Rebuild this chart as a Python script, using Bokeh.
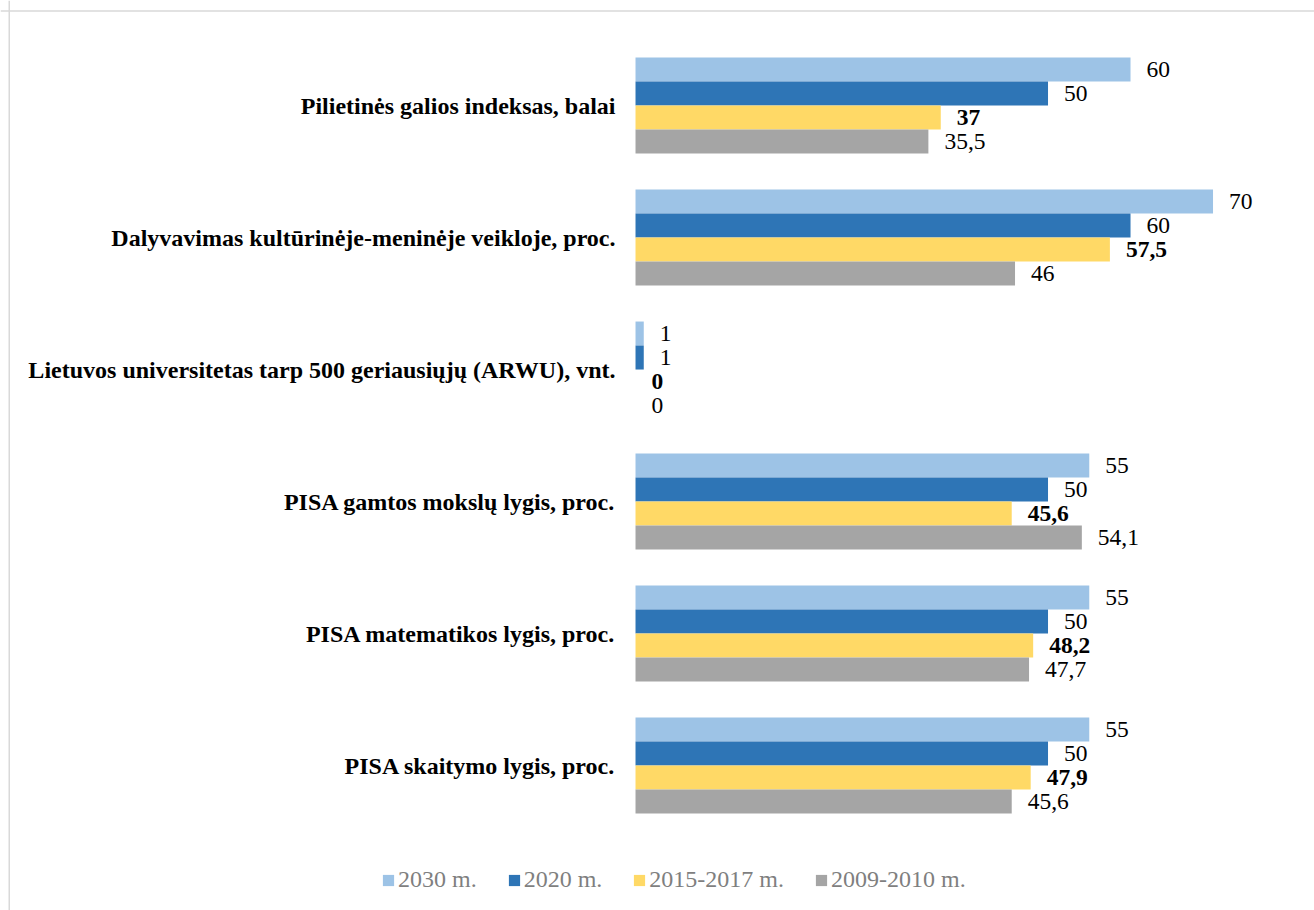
from bokeh.plotting import figure
from bokeh.models import ColumnDataSource, Range1d, Legend, LegendItem, Span
from bokeh.transform import dodge
from bokeh.core.properties import value
from bokeh.embed import file_html
from bokeh.resources import INLINE

categories = [
    "Pilietinės galios indeksas, balai",
    "Dalyvavimas kultūrinėje-meninėje veikloje, proc.",
    "Lietuvos universitetas tarp 500 geriausiųjų (ARWU), vnt.",
    "PISA gamtos mokslų lygis, proc.",
    "PISA matematikos lygis, proc.",
    "PISA skaitymo lygis, proc.",
]
series_names = ["2030 m.", "2020 m.", "2015-2017 m.", "2009-2010 m."]
v2030 = [60, 70, 1, 55, 55, 55]
v2020 = [50, 60, 1, 50, 50, 50]
v2015 = [37, 57.5, 0, 45.6, 48.2, 47.9]
v2009 = [35.5, 46, 0, 54.1, 47.7, 45.6]
series_values = [v2030, v2020, v2015, v2009]
colors = ["#9dc3e6", "#2e75b6", "#ffd966", "#a5a5a5"]
bold_series = [False, False, True, False]

FONT = "Liberation Serif"

W, H = 1314, 910
x0, x1 = -76.97, 82.30
y_bottom, y_top = 6.098, -0.7955
p = figure(width=W, height=H, x_range=Range1d(x0, x1), y_range=Range1d(y_bottom, y_top),
           output_backend="svg", toolbar_location=None, min_border=0,
           x_axis_location=None, y_axis_location=None)
p.grid.visible = False
p.outline_line_color = None
p.background_fill_color = "white"
p.border_fill_color = "white"

# chart border (left and top)
px_per_x = W / (x1 - x0)
px_per_y = H / (y_bottom - y_top)
p.add_layout(Span(location=x0 + 8.75 / px_per_x, dimension="height", line_color="#d9d9d9", line_width=1.5))
p.add_layout(Span(location=y_top + 10.5 / px_per_y, dimension="width", line_color="#d9d9d9", line_width=1.5))

pos = list(range(len(categories)))
bar_h = 24 / 132
offsets = [-1.5 * bar_h, -0.5 * bar_h, 0.5 * bar_h, 1.5 * bar_h]

def fmt(v):
    s = ("%g" % v)
    return s.replace(".", ",")

items = []
for name, vals, col, off, bold in zip(series_names, series_values, colors, offsets, bold_series):
    src = ColumnDataSource(dict(pos=pos, val=vals, lab=[fmt(v) for v in vals]))
    r = p.hbar(y=dodge("pos", off, range=p.y_range), left=0, right="val", height=bar_h,
               source=src, fill_color=col, line_color=None)
    items.append(LegendItem(label=name, renderers=[r]))
    p.text(x="val", y=dodge("pos", off, range=p.y_range), text="lab", source=src,
           x_offset=16, text_align="left", text_baseline="middle",
           text_font=value(FONT), text_font_size="23.5px", text_color="#000000",
           text_font_style="bold" if bold else "normal")

cat_src = ColumnDataSource(dict(pos=pos, cat=categories, zero=[0] * len(categories)))
p.text(x="zero", y="pos", text="cat", source=cat_src, x_offset=-20,
       text_align="right", text_baseline="middle", text_font=value(FONT),
       text_font_size="24px", text_font_style="bold", text_color="#000000")

legend = Legend(items=items, orientation="horizontal", location=(381, 17),
                glyph_width=14, glyph_height=14, label_standoff=3, spacing=30,
                padding=0, margin=0, border_line_color=None, background_fill_alpha=0,
                label_text_font=FONT, label_text_font_size="24px", label_text_color="#7f7f7f")
p.add_layout(legend, "center")

open("out.html", "w").write(file_html(p, INLINE))
